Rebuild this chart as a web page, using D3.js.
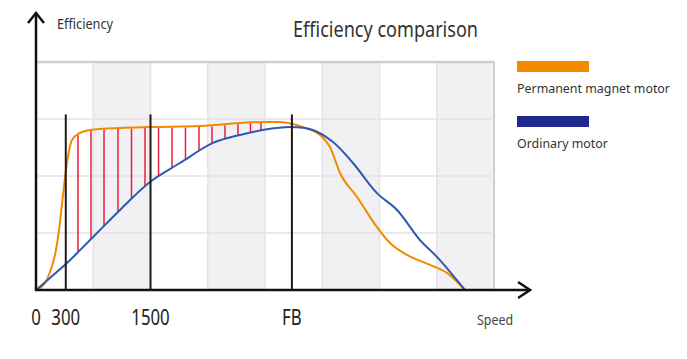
<!DOCTYPE html>
<html><head><meta charset="utf-8">
<script src="https://cdn.jsdelivr.net/npm/d3@7"></script>
<style>
html,body{margin:0;padding:0;background:#fff;}
svg{display:block;font-family:"Noto Sans","Open Sans",sans-serif;}
</style></head>
<body><svg id="c" width="687" height="359"></svg>
<script>
// ---- data ----
const permanentMagnet = [
  [0,0],[0.157,3.1],[0.245,7.9],[0.332,15.4],[0.402,26.3],[0.472,41.7],[0.541,55.7],
  [0.629,65.8],[0.769,68.9],[0.943,70.2],[1.467,71.1],[1.991,71.5],[2.865,71.9],
  [3.965,73.7],[4.262,73.7],[4.489,72.8],[4.699,71.1],[4.961,68.0],[5.135,62.7],
  [5.31,51.3],[5.607,40.8],[5.956,27.6],[6.183,20.6],[6.48,15.4],[6.882,11.0],
  [7.179,7.5],[7.493,0]
];
const ordinaryMotor = [
  [0,0],[0.245,5.3],[0.541,11.8],[0.769,17.5],[1.066,25.0],[1.467,35.1],[1.991,47.4],
  [2.515,55.7],[3.092,64.5],[3.563,68.0],[3.965,70.2],[4.437,71.5],[4.838,70.2],
  [5.188,64.9],[5.537,55.7],[5.956,42.5],[6.306,35.1],[6.707,21.9],[7.004,14.5],[7.493,0]
];
const gapSpeeds = [0.734,0.961,1.188,1.432,1.668,1.904,2.14,2.376,2.611,2.847,3.074,3.301,3.528,3.747,3.93];
const tickValues = [0, 0.52, 2.0, 4.47];
const tickLabels = ["0", "300", "1500", "FB"];
const markerSpeeds = [0.52, 2.0, 4.47];
const markerTop = 77;
const gridColumns = [0,1,2,3,4,5,6,7,8];
const shadedColumns = [1,3,5,7];
const gridRows = [0,25,50,75,100];
const seriesNames = ["Permanent magnet motor", "Ordinary motor"];
const legendColors = ["#f28a00", "#1f2a8c"];

// ---- scales ----
const svg = d3.select("#c");
const x = d3.scaleLinear().domain([0, 8]).range([36, 494]);
const y = d3.scaleLinear().domain([0, 100]).range([290, 62]);

// background columns
svg.append("g").selectAll("rect").data(shadedColumns).join("rect")
  .attr("x", d => x(d)).attr("y", y(100))
  .attr("width", d => x(d + 1) - x(d)).attr("height", y(0) - y(100))
  .attr("fill", "#f1f1f4");

// grid
const grid = svg.append("g");
grid.selectAll("line.v").data(gridColumns).join("line").attr("class","v")
  .attr("x1", d => x(d)).attr("x2", d => x(d)).attr("y1", y(0)).attr("y2", y(100))
  .attr("stroke", d => d === 8 ? "#cfcfd2" : "#e3e3e8").attr("stroke-width", d => d === 8 ? 2 : 1.5);
grid.selectAll("line.h").data(gridRows).join("line").attr("class","h")
  .attr("x1", x(0)).attr("x2", x(8)).attr("y1", d => y(d)).attr("y2", d => y(d))
  .attr("stroke", d => d === 100 ? "#cfcfd2" : "#e3e3e8").attr("stroke-width", d => d === 100 ? 2.5 : 1.5);

// curves
const lineO = d3.line().x(d => x(d[0])).y(d => y(d[1])).curve(d3.curveMonotoneX);
const lineB = d3.line().x(d => x(d[0])).y(d => y(d[1])).curve(d3.curveCatmullRom.alpha(0.5));
const orangePath = svg.append("path").datum(permanentMagnet).attr("d", lineO)
  .attr("fill", "none").attr("stroke", "#f28a00").attr("stroke-width", 2);
const bluePath = svg.append("path").datum(ordinaryMotor).attr("d", lineB)
  .attr("fill", "none").attr("stroke", "#2f58b0").attr("stroke-width", 2);

function yAt(pathNode, px) {
  const L = pathNode.getTotalLength();
  let lo = 0, hi = L;
  for (let i = 0; i < 40; i++) {
    const mid = (lo + hi) / 2;
    const p = pathNode.getPointAtLength(mid);
    if (p.x < px) lo = mid; else hi = mid;
  }
  return pathNode.getPointAtLength((lo + hi) / 2).y;
}

// red gap lines
svg.insert("g", "path").selectAll("line").data(gapSpeeds).join("line")
  .attr("x1", d => x(d)).attr("x2", d => x(d))
  .attr("y1", d => yAt(orangePath.node(), x(d)) + 1)
  .attr("y2", d => yAt(bluePath.node(), x(d)))
  .attr("stroke", "#e8203c").attr("stroke-width", 1.5);

// black markers
svg.append("g").selectAll("line").data(markerSpeeds).join("line")
  .attr("x1", d => x(d)).attr("x2", d => x(d)).attr("y1", y(0)).attr("y2", y(markerTop))
  .attr("stroke", "#231815").attr("stroke-width", 2);

// axes
const ax = svg.append("g").attr("stroke", "#111").attr("fill", "none").attr("stroke-width", 2.5);
ax.append("line").attr("x1", x(0)).attr("x2", x(0)).attr("y1", y(0) + 1).attr("y2", y(121.5));
ax.append("path").attr("d", `M${x(0)-8},${y(121.5)+10}L${x(0)},${y(121.5)}L${x(0)+8},${y(121.5)+10}`);
ax.append("line").attr("x1", x(0) - 1).attr("x2", x(8.63)).attr("y1", y(0)).attr("y2", y(0));
ax.append("path").attr("d", `M${x(8.63)-12},${y(0)-8}L${x(8.63)},${y(0)}L${x(8.63)-12},${y(0)+8}`);

// tick labels
svg.append("g").selectAll("text").data(tickValues).join("text")
  .attr("x", d => x(d)).attr("y", 325).attr("text-anchor", "middle")
  .attr("font-size", 21).attr("fill", "#222")
  .attr("transform", d => `translate(${x(d)},0) scale(0.8,1) translate(${-x(d)},0)`)
  .text((d, i) => tickLabels[i]);

// titles
svg.append("text").attr("x", 293).attr("y", 37).attr("font-size", 21).attr("fill", "#333")
  .attr("textLength", 185).attr("lengthAdjust", "spacingAndGlyphs").text("Efficiency comparison");
svg.append("text").attr("x", 57).attr("y", 29).attr("font-size", 15).attr("fill", "#333")
  .attr("textLength", 56).attr("lengthAdjust", "spacingAndGlyphs").text("Efficiency");
svg.append("text").attr("x", 477).attr("y", 325).attr("font-size", 14).attr("fill", "#444")
  .attr("textLength", 36).attr("lengthAdjust", "spacingAndGlyphs").text("Speed");

// legend
const leg = svg.append("g");
const legLens = [153, 91];
seriesNames.forEach((name, i) => {
  const yy = 61 + i * 55;
  leg.append("rect").attr("x", 517).attr("y", yy).attr("width", 72).attr("height", 11).attr("fill", legendColors[i]);
  leg.append("text").attr("x", 517).attr("y", yy + 32).attr("font-size", 12.5).attr("fill", "#333")
    .attr("textLength", legLens[i]).attr("lengthAdjust", "spacingAndGlyphs").text(name);
});
</script></body></html>
